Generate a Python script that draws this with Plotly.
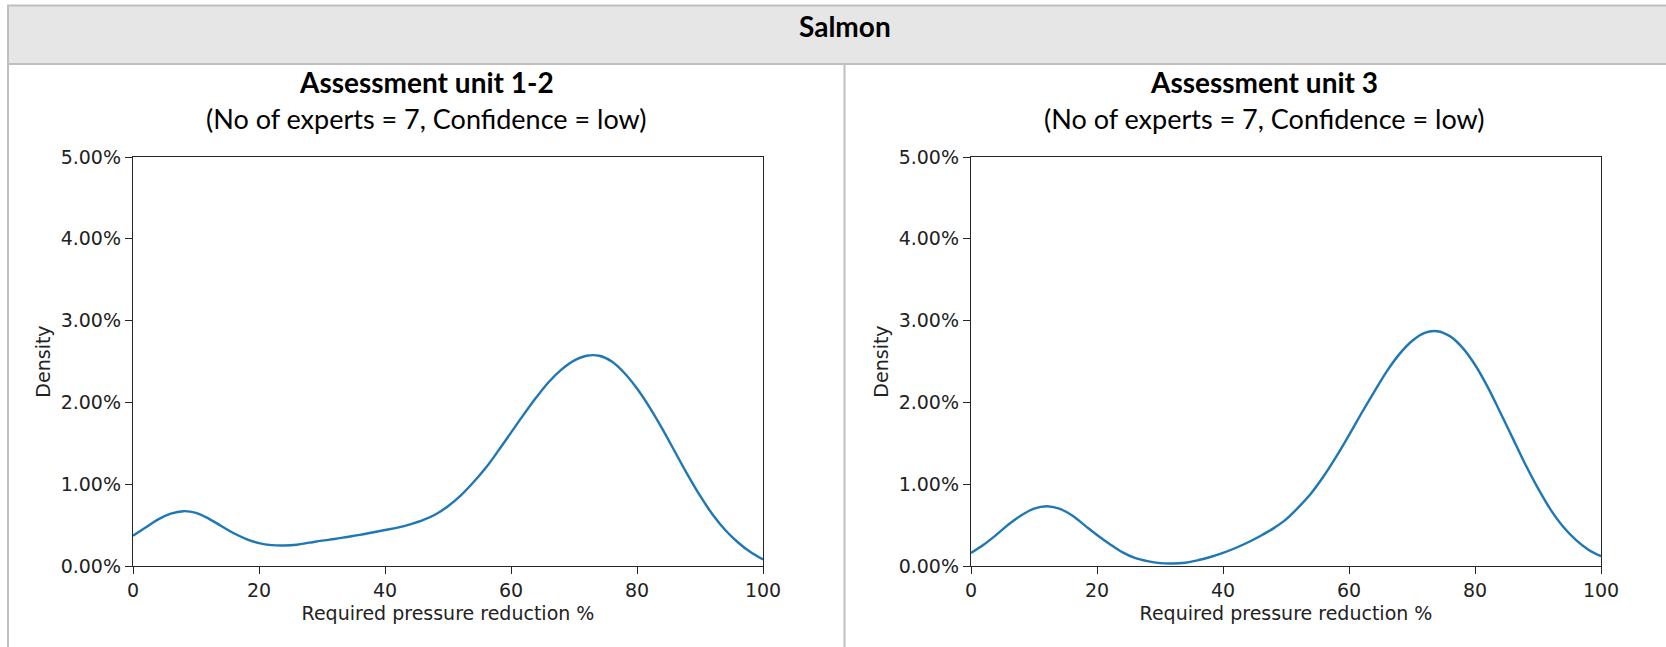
import plotly.graph_objects as go

# Required pressure reduction (%) grid
x_vals = list(range(0, 101, 2))

# Density (%) for Assessment unit 1-2
density_au12 = [0.37, 0.47, 0.57, 0.64, 0.67, 0.65, 0.58, 0.49, 0.40, 0.33,
                0.28, 0.255, 0.25, 0.26, 0.285, 0.31, 0.33, 0.355, 0.38, 0.41,
                0.44, 0.47, 0.51, 0.56, 0.63, 0.73, 0.86, 1.02, 1.20, 1.41,
                1.63, 1.85, 2.06, 2.25, 2.40, 2.51, 2.57, 2.57, 2.50, 2.36,
                2.17, 1.94, 1.68, 1.40, 1.12, 0.86, 0.63, 0.44, 0.29, 0.17,
                0.08]

# Density (%) for Assessment unit 3
density_au3 = [0.16, 0.26, 0.38, 0.51, 0.62, 0.70, 0.73, 0.70, 0.62, 0.50,
               0.38, 0.27, 0.17, 0.10, 0.06, 0.035, 0.03, 0.04, 0.07, 0.11,
               0.16, 0.22, 0.29, 0.37, 0.46, 0.57, 0.72, 0.89, 1.10, 1.34,
               1.60, 1.87, 2.13, 2.38, 2.59, 2.75, 2.85, 2.87, 2.81, 2.67,
               2.46, 2.19, 1.88, 1.56, 1.24, 0.95, 0.69, 0.48, 0.32, 0.20,
               0.12]

species = "Salmon"
panel_titles = ["Assessment unit 1-2", "Assessment unit 3"]
panel_subtitles = ["(No of experts = 7, Confidence = low)",
                   "(No of experts = 7, Confidence = low)"]
x_ticks = [0, 20, 40, 60, 80, 100]
y_ticks = [0, 1, 2, 3, 4, 5]
y_tick_labels = ["0.00%", "1.00%", "2.00%", "3.00%", "4.00%", "5.00%"]

W, H = 1666, 647


def px(x):
    """pixel x -> paper x"""
    return x / W


def py(y):
    """pixel y (from top) -> paper y"""
    return 1 - y / H


LINE_COLOR = "#1f77b4"
TICK_FONT = dict(family="DejaVu Sans", size=19, color="#222222")
HEAD_FONT = "Lato"
BOLD_SIZE = 28
SUB_SIZE = 27

fig = go.Figure()

for i, dens in enumerate([density_au12, density_au3]):
    n = "" if i == 0 else str(i + 1)
    fig.add_trace(go.Scatter(
        x=x_vals, y=dens, mode="lines",
        line=dict(color=LINE_COLOR, width=2.4, shape="spline", smoothing=1.0),
        xaxis="x" + n, yaxis="y" + n, showlegend=False, hoverinfo="skip",
    ))

axis_common = dict(
    showgrid=False, zeroline=False, showline=True, linecolor="#262626",
    linewidth=1.4, mirror=True, ticks="outside", ticklen=7, tickwidth=1.4,
    tickcolor="#262626", tickfont=TICK_FONT, automargin=False,
)

panels = [(133, 763), (971, 1601)]
y_top, y_bot = 157, 566

layout = dict(
    template="none",
    width=W, height=H, autosize=False,
    margin=dict(l=0, r=0, t=0, b=0, pad=0, autoexpand=False),
    paper_bgcolor="white", plot_bgcolor="white",
)
for i, (x0, x1) in enumerate(panels):
    n = "" if i == 0 else str(i + 1)
    layout["xaxis" + n] = dict(
        axis_common, domain=[px(x0), px(x1)], range=[0, 100],
        tickvals=x_ticks, anchor="y" + n,
        title=dict(text="Required pressure reduction %",
                   font=TICK_FONT, standoff=6),
    )
    layout["yaxis" + n] = dict(
        axis_common, domain=[py(y_bot), py(y_top)], range=[0, 5],
        tickvals=y_ticks, ticktext=y_tick_labels, anchor="x" + n,
        title=dict(text="Density", font=TICK_FONT, standoff=4),
    )
fig.update_layout(**layout)

BORDER = "#bfbfbf"
shapes = [
    # header band
    dict(type="rect", xref="paper", yref="paper",
         x0=px(8), x1=px(W + 4), y0=py(64), y1=py(5.5),
         fillcolor="#e6e6e6", line=dict(color=BORDER, width=2), layer="below"),
    # left border of the table
    dict(type="line", xref="paper", yref="paper",
         x0=px(8), x1=px(8), y0=py(5), y1=py(H + 4),
         line=dict(color=BORDER, width=2)),
    # divider between the two cells
    dict(type="line", xref="paper", yref="paper",
         x0=px(844.5), x1=px(844.5), y0=py(64), y1=py(H + 4),
         line=dict(color=BORDER, width=2)),
]
fig.update_layout(shapes=shapes)

annotations = [
    dict(text="<b>" + species + "</b>", x=px(845), y=py(26),
         xref="paper", yref="paper", showarrow=False,
         font=dict(family=HEAD_FONT, size=BOLD_SIZE, color="#000000"),
         xanchor="center", yanchor="middle"),
]
title_centers = [426, 1264]
for t, s, cx in zip(panel_titles, panel_subtitles, title_centers):
    annotations.append(dict(
        text="<b>" + t + "</b>", x=px(cx), y=py(82), xref="paper", yref="paper",
        showarrow=False,
        font=dict(family=HEAD_FONT, size=BOLD_SIZE, color="#000000"),
        xanchor="center", yanchor="middle"))
    annotations.append(dict(
        text=s, x=px(cx), y=py(119), xref="paper", yref="paper",
        showarrow=False,
        font=dict(family=HEAD_FONT, size=SUB_SIZE, color="#000000"),
        xanchor="center", yanchor="middle"))
fig.update_layout(annotations=annotations)

fig.write_html("out.html")
